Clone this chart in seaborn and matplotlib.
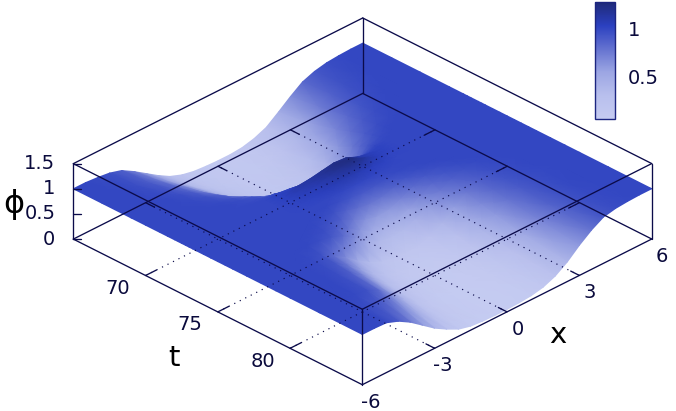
import numpy as np
import matplotlib
matplotlib.use("Agg")
import matplotlib.pyplot as plt
import seaborn as sns

# values, one list per time slice, x from -6 to 6
x_values = [-6, -5.5, -5, -4.5, -4, -3.5, -3, -2.5, -2, -1.5, -1, -0.5, 0,
            0.5, 1, 1.5, 2, 2.5, 3, 3.5, 4, 4.5, 5, 5.5, 6]
t_values = [65, 67, 69, 70, 71, 71.5, 72, 72.25, 72.5, 72.75, 73, 73.25, 73.5,
            74, 74.5, 75, 75.5, 76, 76.5, 77, 78, 79, 80, 82, 85]

phi_t65 = [1, 1, .98, .95, .88, .74, .58, .42, .28, .19, .14, .12, .11, .11, .13, .19, .29, .47, .66, .83, .92, .97, .99, 1, 1]
phi_t67 = [1, 1, 1, .97, .91, .81, .66, .50, .34, .22, .16, .13, .12, .12, .15, .23, .37, .55, .74, .87, .95, .98, 1, 1, 1]
phi_t69 = [1, 1, 1, 1, .97, .90, .78, .62, .45, .30, .20, .15, .14, .15, .21, .33, .52, .70, .84, .93, .98, 1, 1, 1, 1]
phi_t70 = [1, 1, 1, 1, .99, .95, .87, .72, .54, .37, .25, .18, .16, .18, .27, .42, .62, .80, .91, .97, 1, 1, 1, 1, 1]
phi_t71 = [1, 1, 1, 1, 1, .99, .95, .86, .70, .50, .34, .25, .22, .26, .39, .58, .77, .90, .97, .99, 1, 1, 1, 1, 1]
phi_t71_5 = [1, 1, 1, 1, 1, 1, .98, .93, .82, .62, .42, .30, .27, .32, .47, .67, .84, .94, .99, 1, 1, 1, 1, 1, 1]
phi_t72 = [1, 1, 1, 1, 1, 1, .99, .97, .91, .74, .50, .36, .33, .40, .58, .78, .92, .98, 1, 1, 1, 1, 1, 1, 1]
phi_t72_25 = [1, 1, 1, 1, 1, 1, 1, .99, .98, .87, .63, .45, .40, .47, .66, .85, .96, .99, 1, 1, 1, 1, 1, 1, 1]
phi_t72_5 = [1, 1, 1, 1, 1, 1, 1, 1, 1.03, 1.0, .78, .56, .48, .56, .76, .93, 1, 1, 1, 1, 1, 1, 1, 1, 1]
phi_t72_75 = [1, 1, 1, 1, 1, 1, 1, 1, 1.03, 1.06, .96, .80, .70, .78, .90, 1, 1.02, 1, 1, 1, 1, 1, 1, 1, 1]
phi_t73 = [1, 1, 1, 1, 1, 1, 1, 1, 1.03, 1.12, 1.14, 1.18, 1.22, 1.20, 1.10, 1.05, 1.02, 1, 1, 1, 1, 1, 1, 1, 1]
phi_t73_25 = [1, 1, 1, 1, 1, 1, 1, 1, 1.03, 1.08, 1.12, 1.17, 1.24, 1.24, 1.12, 1.05, 1.02, 1, 1, 1, 1, 1, 1, 1, 1]
phi_t73_5 = [1, 1, 1, 1, 1, 1, 1, 1, 1.02, 1.05, 1.08, 1.14, 1.20, 1.25, 1.15, 1.05, 1.01, 1, 1, 1, 1, 1, 1, 1, 1]
phi_t74 = [1, 1, 1, 1, 1, 1, 1, 1, 1.01, 1.02, 1.04, 1.07, 1.09, 1.07, 1.04, 1.02, 1, 1, 1, 1, 1, 1, 1, 1, 1]
phi_t74_5 = [1, 1, 1, 1, 1, 1, 1, 1, 1, 1, 1, 1.0, .99, 1.0, 1, 1, 1, 1, 1, 1, 1, 1, 1, 1, 1]
phi_t75 = [1, 1, 1, 1, 1, 1, 1, 1, 1, 1, .97, .93, .90, .92, .96, .99, 1, 1, 1, 1, 1, 1, 1, 1, 1]
phi_t75_5 = [1, 1, 1, 1, 1, 1, 1, 1, .99, .95, .87, .80, .76, .78, .85, .93, .98, 1, 1, 1, 1, 1, 1, 1, 1]
phi_t76 = [1, 1, 1, 1, 1, 1, 1, .99, .95, .88, .76, .64, .58, .60, .70, .82, .92, .97, 1, 1, 1, 1, 1, 1, 1]
phi_t76_5 = [1, 1, 1, 1, 1, 1, .99, .97, .90, .78, .62, .48, .43, .46, .56, .71, .84, .93, .98, 1, 1, 1, 1, 1, 1]
phi_t77 = [1, 1, 1, 1, 1, 1, .97, .92, .82, .66, .48, .36, .32, .34, .44, .60, .76, .88, .95, .99, 1, 1, 1, 1, 1]
phi_t78 = [1, 1, 1, 1, .99, .95, .82, .67, .48, .33, .22, .17, .15, .17, .25, .39, .58, .75, .88, .96, .99, 1, 1, 1, 1]
phi_t79 = [1, 1, 1, 1, .98, .92, .77, .58, .38, .24, .15, .11, .10, .11, .17, .29, .47, .67, .83, .93, .98, 1, 1, 1, 1]
phi_t80 = [1, 1, 1, 1, .97, .89, .72, .52, .32, .19, .12, .09, .08, .09, .13, .23, .39, .60, .78, .90, .97, .99, 1, 1, 1]
phi_t82 = [1, 1, 1, .99, .95, .83, .63, .42, .24, .13, .08, .06, .06, .07, .09, .16, .29, .49, .70, .86, .95, .99, 1, 1, 1]
phi_t85 = [1, 1, .99, .90, .76, .58, .40, .26, .14, .08, .06, .05, .05, .06, .08, .13, .23, .39, .60, .78, .92, .97, .99, 1, 1]

phi_rows = [phi_t65, phi_t67, phi_t69, phi_t70, phi_t71, phi_t71_5, phi_t72,
            phi_t72_25, phi_t72_5, phi_t72_75, phi_t73, phi_t73_25, phi_t73_5,
            phi_t74, phi_t74_5, phi_t75, phi_t75_5, phi_t76, phi_t76_5,
            phi_t77, phi_t78, phi_t79, phi_t80, phi_t82, phi_t85]

x_ticks = [-6, -3, 0, 3, 6]
t_ticks = [70, 75, 80]
z_ticks = [0, 0.5, 1, 1.5]
z_tick_labels = ["0", "0.5", "1", "1.5"]
cb_ticks = [0.5, 1]
cb_tick_labels = ["0.5", "1"]

LINE = "#0b0b4a"
TEXT = "#0a0a3c"


def project(x, t, z):
    # same oblique view as the box in the picture, result in figure pixels
    u = np.asarray(x, dtype=float) + 6
    v = 85 - np.asarray(t, dtype=float)
    px = 362.3 + 24.12 * u - 14.45 * v
    py = 384.7 - 12.14 * u - 7.28 * v - 50.3 * np.asarray(z, dtype=float)
    return px, py


def edge(x0, t0, z0, x1, t1, z1, **kw):
    a = project(x0, t0, z0)
    b = project(x1, t1, z1)
    ax.plot([a[0], b[0]], [a[1], b[1]], **kw)


sns.set_theme(style="white")
plt.rcParams["font.family"] = ["DejaVu Sans"]

cmap = sns.blend_palette(["#c5cbf1", "#b8bfed", "#9ca6e3", "#6472d0", "#2b40c0", "#1f2a78"],
                         as_cmap=True)
norm = matplotlib.colors.Normalize(0.05, 1.28)

fig = plt.figure(figsize=(6.76, 4.11), dpi=100)
ax = fig.add_axes([0, 0, 1, 1])
ax.set_xlim(0, 676)
ax.set_ylim(411, 0)
ax.axis("off")

# rows run back to front so that nearer parts of the surface cover farther ones
xx, tt = np.meshgrid(x_values[::-1], t_values)
phi = np.array(phi_rows)[:, ::-1]
px, py = project(xx, tt, phi)
mesh = ax.pcolormesh(px, py, phi, shading="gouraud", cmap=cmap, norm=norm, zorder=1)

solid = dict(color=LINE, lw=0.95, zorder=3, solid_capstyle="round")
dotted = dict(color=LINE, lw=0.85, zorder=2, linestyle=(0, (1, 4.2)))

# box
for z in (0, 1.5):
    edge(-6, 65, z, -6, 85, z, **solid)
    edge(-6, 85, z, 6, 85, z, **solid)
    edge(6, 85, z, 6, 65, z, **solid)
    edge(6, 65, z, -6, 65, z, **solid)
for x, t in ((-6, 65), (-6, 85), (6, 85), (6, 65)):
    edge(x, t, 0, x, t, 1.5, **solid)

# base grid and ticks
for t in t_ticks:
    edge(-6, t, 0, 6, t, 0, **dotted)
    edge(-6, t, 0, -5.55, t, 0, **solid)
    edge(6, t, 0, 5.55, t, 0, **solid)
for x in x_ticks[1:-1]:
    edge(x, 85, 0, x, 65, 0, **dotted)
    edge(x, 85, 0, x, 84.4, 0, **solid)
    edge(x, 65, 0, x, 65.6, 0, **solid)

# z ticks
for z, lab in zip(z_ticks, z_tick_labels):
    zx, zy = project(-6, 65, z)
    ax.plot([zx, zx + 8], [zy, zy], **solid)
    ax.text(zx - 18, zy, lab, ha="right", va="center", fontsize=14, color=TEXT)

# x and t tick labels
for x in x_ticks:
    bx, by = project(x, 85, 0)
    ax.text(bx + (8 if x < 0 else 10.5), by + 17.5, str(x), ha="center", va="center",
            fontsize=14, color=TEXT)
for t in t_ticks:
    bx, by = project(-6, t, 0)
    ax.text(bx - 27.5, by + 13, str(t), ha="center", va="center", fontsize=14, color=TEXT)

ax.text(558, 335, "x", ha="center", va="center", fontsize=21, color="black")
ax.text(174, 358, "t", ha="center", va="center", fontsize=21, color="black")
ax.text(13.5, 204, "\u03d5", ha="center", va="center", fontsize=23, color="black")

# colour box
cax = fig.add_axes([595.3 / 676, 1 - 118.7 / 411, 19.4 / 676, 116.4 / 411])
cb = fig.colorbar(mesh, cax=cax)
cb.set_ticks(cb_ticks, labels=cb_tick_labels)
cb.outline.set_edgecolor("#1c2580")
cb.outline.set_linewidth(1.0)
cax.yaxis.set_ticks_position("both")
cax.tick_params(axis="y", which="major", direction="in", length=6.5, width=1.0, color=LINE,
                labelleft=False, labelright=True, labelsize=14, labelcolor=TEXT, pad=9.5)

fig.savefig("out.png", dpi=100)
